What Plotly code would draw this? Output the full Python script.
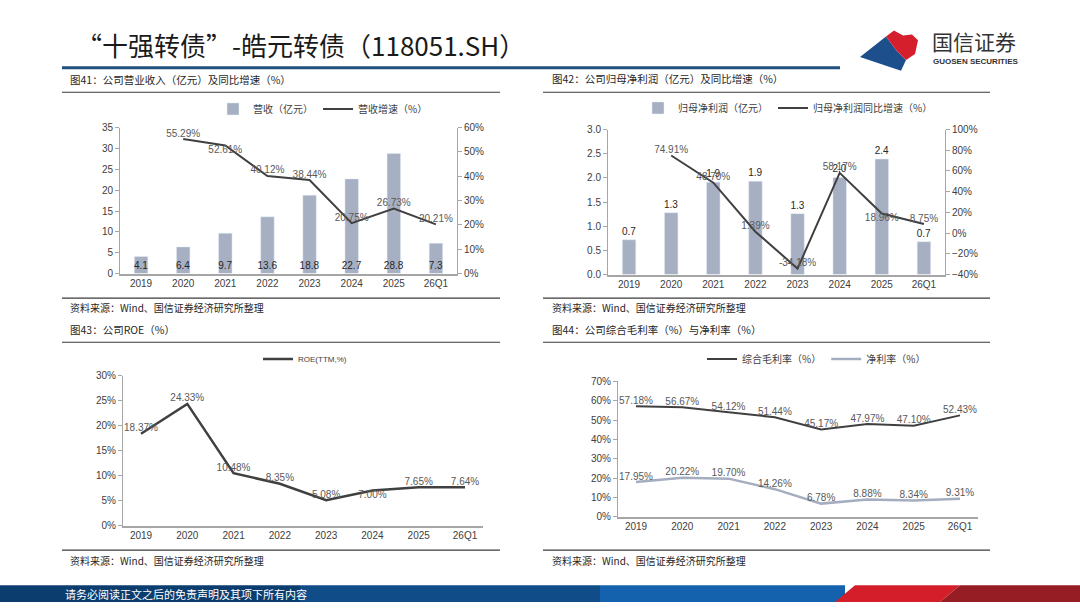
import plotly.graph_objects as go

# =========================
# 数据
# =========================
years = ["2019", "2020", "2021", "2022", "2023", "2024", "2025", "26Q1"]

revenue = [4.1, 6.4, 9.7, 13.6, 18.8, 22.7, 28.8, 7.3]
revenue_growth = [None, 55.29, 52.61, 40.12, 38.44, 20.75, 26.73, 20.21]

net_profit = [0.72, 1.28, 1.91, 1.93, 1.26, 2.01, 2.39, 0.68]
net_profit_growth = [None, 74.91, 48.70, 1.39, -34.18, 58.17, 18.96, 8.75]

roe = [18.37, 24.33, 10.48, 8.35, 5.08, 7.00, 7.65, 7.64]

gross_margin = [57.18, 56.67, 54.12, 51.44, 45.17, 47.97, 47.10, 52.43]
net_margin = [17.95, 20.22, 19.70, 14.26, 6.78, 8.88, 8.34, 9.31]

# =========================
# 样式
# =========================
W, H = 1080, 608
BAR = "#a7b0c3"
DARK = "#404040"
LIGHT_LINE = "#a5aec0"
LABEL = "#595959"
CJK = "Noto Sans CJK SC"
NUM = "Liberation Sans, Noto Sans CJK SC"


def px(x):
    return x / W


def py(y):
    return 1 - y / H


def pct(vals):
    return ["" if v is None else f"{v:.2f}%" for v in vals]


fig = go.Figure()

# ---- 图41 营收 ----
fig.add_trace(go.Bar(
    x=years, y=revenue, name="营收（亿元）", marker_color=BAR, width=0.32,
    text=[f"{v:.1f}" for v in revenue], textposition="inside", insidetextanchor="start",
    textangle=0, constraintext="none", insidetextfont=dict(color="#262626", size=10, family=NUM),
    xaxis="x", yaxis="y", legend="legend"))
fig.add_trace(go.Scatter(
    x=years, y=revenue_growth, name="营收增速（%）", mode="lines+text",
    line=dict(color=DARK, width=2), text=pct(revenue_growth),
    textposition=["top center", "top center", "bottom center", "top center",
                  "top center", "top center", "top center", "top center"],
    textfont=dict(color=LABEL, size=10, family=NUM), cliponaxis=False,
    xaxis="x", yaxis="y2", legend="legend"))

# ---- 图42 归母净利润 ----
fig.add_trace(go.Bar(
    x=years, y=net_profit, name="归母净利润（亿元）", marker_color=BAR, width=0.32,
    text=[f"{v:.1f}" for v in net_profit], textposition="outside", textangle=0,
    constraintext="none", outsidetextfont=dict(color="#262626", size=10, family=NUM),
    cliponaxis=False, xaxis="x2", yaxis="y3", legend="legend2"))
fig.add_trace(go.Scatter(
    x=years, y=net_profit_growth, name="归母净利润同比增速（%）", mode="lines+text",
    line=dict(color=DARK, width=2), text=pct(net_profit_growth),
    textposition=["top center", "top center", "top center", "top center",
                  "top center", "top center", "bottom center", "top center"],
    textfont=dict(color=LABEL, size=10, family=NUM), cliponaxis=False,
    xaxis="x2", yaxis="y4", legend="legend2"))

# ---- 图43 ROE ----
fig.add_trace(go.Scatter(
    x=years, y=roe, name="ROE(TTM,%)", mode="lines+text",
    line=dict(color=DARK, width=2.5), text=pct(roe),
    textposition=["top center", "top center", "top center", "top center",
                  "top center", "bottom center", "top center", "top center"],
    textfont=dict(color=LABEL, size=10, family=NUM), cliponaxis=False,
    xaxis="x3", yaxis="y5", legend="legend3"))

# ---- 图44 毛利率与净利率 ----
fig.add_trace(go.Scatter(
    x=years, y=gross_margin, name="综合毛利率（%）", mode="lines+text",
    line=dict(color=DARK, width=2), text=pct(gross_margin), textposition="top center",
    textfont=dict(color=LABEL, size=10, family=NUM), cliponaxis=False,
    xaxis="x4", yaxis="y6", legend="legend4"))
fig.add_trace(go.Scatter(
    x=years, y=net_margin, name="净利率（%）", mode="lines+text",
    line=dict(color=LIGHT_LINE, width=2.5), text=pct(net_margin), textposition="top center",
    textfont=dict(color=LABEL, size=10, family=NUM), cliponaxis=False,
    xaxis="x4", yaxis="y6", legend="legend4"))

# =========================
# 坐标轴
# =========================
tickfont = dict(family=NUM, size=10, color=DARK)
xbase = dict(type="category", showline=True, linecolor="#a6a6a6", linewidth=1.5,
             showgrid=False, ticks="", tickfont=tickfont, fixedrange=True)
ybase = dict(showline=True, linecolor="#a6a6a6", linewidth=1, showgrid=False, zeroline=False,
             ticks="outside", ticklen=4, tickcolor="#a6a6a6", tickfont=tickfont)

legend_base = dict(orientation="h", yanchor="middle", bgcolor="rgba(0,0,0,0)",
                   font=dict(family=CJK, size=10, color=DARK), itemwidth=30,
                   tracegroupgap=0)

fig.update_layout(
    width=W, height=H,
    margin=dict(l=0, r=0, t=0, b=0),
    paper_bgcolor="white", plot_bgcolor="white",
    font=dict(family=CJK, color=DARK),
    xaxis=dict(xbase, domain=[px(120), px(457)], anchor="y"),
    yaxis=dict(ybase, domain=[py(273), py(124)], range=[0, 35], dtick=5, anchor="x"),
    yaxis2=dict(ybase, overlaying="y", side="right", anchor="x", range=[0, 60], dtick=10,
                ticksuffix="%"),
    xaxis2=dict(xbase, domain=[px(608), px(945)], anchor="y3"),
    yaxis3=dict(ybase, domain=[py(274), py(126)], range=[0, 3], dtick=0.5, tickformat=".1f",
                anchor="x2"),
    yaxis4=dict(ybase, overlaying="y3", side="right", anchor="x2", range=[-40, 100], dtick=20,
                ticksuffix="%"),
    xaxis3=dict(xbase, domain=[px(123), px(483)], anchor="y5"),
    yaxis5=dict(ybase, domain=[py(530), py(377)], range=[0, 30], dtick=5, ticksuffix="%",
                anchor="x3"),
    xaxis4=dict(xbase, domain=[px(618), px(978)], anchor="y6"),
    yaxis6=dict(ybase, domain=[py(521), py(383)], range=[0, 70], dtick=10, ticksuffix="%",
                anchor="x4"),
    legend=dict(legend_base, x=px(213), y=py(105)),
    legend2=dict(legend_base, x=px(638), y=py(104)),
    legend3=dict(legend_base, x=px(258), y=py(360), font=dict(family=NUM, size=8, color=DARK)),
    legend4=dict(legend_base, x=px(702), y=py(360)),
    showlegend=True,
)

# =========================
# 版面：标题、分隔线、页脚
# =========================
shapes = []


def hline(x0, x1, y, color="#3a3a3a", width=1.2):
    shapes.append(dict(type="line", xref="paper", yref="paper", x0=px(x0), x1=px(x1),
                       y0=py(y), y1=py(y), line=dict(color=color, width=width)))


hline(62, 840, 63, color="#1f4f7e", width=3)
for x0, x1 in [(62, 500), (543, 990)]:
    hline(x0, x1, 88)
    hline(x0, x1, 298)
    hline(x0, x1, 343)
    hline(x0, x1, 555)

# 页脚色带
shapes.append(dict(type="rect", xref="paper", yref="paper", x0=0, x1=px(300),
                   y0=0, y1=py(591), line_width=0, fillcolor="#0c3d6f"))
shapes.append(dict(type="rect", xref="paper", yref="paper", x0=px(300), x1=px(600),
                   y0=0, y1=py(591), line_width=0, fillcolor="#104c88"))
shapes.append(dict(type="rect", xref="paper", yref="paper", x0=px(600), x1=px(845),
                   y0=0, y1=py(591), line_width=0, fillcolor="#1462ad"))
shapes.append(dict(type="path", xref="paper", yref="paper",
                   path=f"M {px(835)} {py(608)} L {px(855)} {py(591)} L {px(960)} {py(591)} "
                        f"L {px(940)} {py(608)} Z",
                   line_width=0, fillcolor="#d41f2b"))
shapes.append(dict(type="path", xref="paper", yref="paper",
                   path=f"M {px(940)} {py(608)} L {px(960)} {py(591)} L {px(1080)} {py(591)} "
                        f"L {px(1080)} {py(608)} Z",
                   line_width=0, fillcolor="#961d24"))

# 标志
shapes.append(dict(type="path", xref="paper", yref="paper",
                   path=f"M {px(860)} {py(52)} L {px(886)} {py(31)} L {px(896)} {py(45)} "
                        f"L {px(906)} {py(55)} L {px(901)} {py(66)} L {px(889)} {py(62)} Z",
                   line_width=0, fillcolor="#1d4f8c"))
shapes.append(dict(type="path", xref="paper", yref="paper",
                   path=f"M {px(886)} {py(31)} L {px(894)} {py(25)} L {px(903)} {py(30)} "
                        f"L {px(912)} {py(29)} L {px(918)} {py(35)} L {px(915)} {py(49)} "
                        f"L {px(906)} {py(55)} L {px(896)} {py(45)} Z",
                   line_width=0, fillcolor="#d61f2c"))

annotations = [
    dict(text="“十强转债”-皓元转债（118051.SH）", x=px(74), y=py(39), xanchor="left",
         yanchor="middle", font=dict(family=CJK, size=26, color="#1a1a1a")),
    dict(text="国信证券", x=px(930), y=py(36), xanchor="left", yanchor="middle",
         font=dict(family=CJK, size=21, color="#333333")),
    dict(text="<b>GUOSEN SECURITIES</b>", x=px(931), y=py(57), xanchor="left", yanchor="middle",
         font=dict(family="Liberation Sans", size=8, color="#333333")),
    dict(text="请务必阅读正文之后的免责声明及其项下所有内容", x=px(63), y=py(600), xanchor="left",
         yanchor="middle", font=dict(family=CJK, size=11, color="white")),
]

captions = [
    ("图41：公司营业收入（亿元）及同比增速（%）", 68, 75),
    ("图42：公司归母净利润（亿元）及同比增速（%）", 550, 74),
    ("图43：公司ROE（%）", 68, 330),
    ("图44：公司综合毛利率（%）与净利率（%）", 550, 330),
]
for txt, x, y in captions:
    annotations.append(dict(text=txt, x=px(x), y=py(y), xanchor="left", yanchor="middle",
                            font=dict(family=CJK, size=10.5, color="#262626")))

for x, y in [(68, 308), (550, 308), (68, 566), (550, 566)]:
    annotations.append(dict(text="资料来源：Wind、国信证券经济研究所整理", x=px(x), y=py(y),
                            xanchor="left", yanchor="middle",
                            font=dict(family=CJK, size=10, color="#262626")))

for a in annotations:
    a.update(xref="paper", yref="paper", showarrow=False)

fig.update_layout(shapes=shapes, annotations=annotations)

fig.write_html("out.html", config={"displayModeBar": False},
               post_script="document.body.style.margin='0';")
